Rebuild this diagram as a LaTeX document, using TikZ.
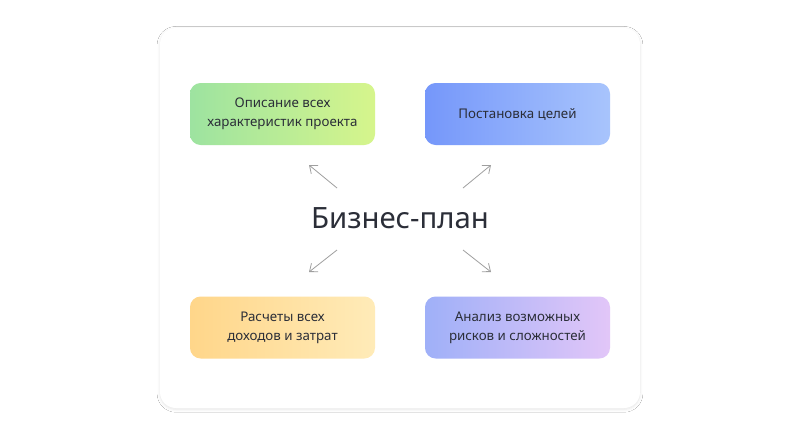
\documentclass[tikz,border=0pt]{standalone}
\usepackage{fontspec}
\setmainfont{Noto Sans}
\usetikzlibrary{shadows.blur,arrows.meta}
\definecolor{ink}{HTML}{2B2E38}
\definecolor{greenA}{HTML}{9DE3A0}
\definecolor{greenB}{HTML}{D6F58C}
\definecolor{blueA}{HTML}{7597FA}
\definecolor{blueB}{HTML}{A8C4FC}
\definecolor{yellowA}{HTML}{FFD68A}
\definecolor{yellowB}{HTML}{FFEBB8}
\definecolor{violetA}{HTML}{9FB0F8}
\definecolor{violetB}{HTML}{E2C6F8}
\tikzset{
  card/.style={fill=white, rounded corners=12pt, blur shadow={shadow blur steps=8, shadow xshift=0pt, shadow yshift=-1pt, shadow opacity=10}},
  goal/.style={minimum width=138.75pt, minimum height=46.5pt, rounded corners=8pt, align=center, font=\fontsize{10}{14}\selectfont, text=ink},
  pointer/.style={draw=gray!75, line width=0.6pt, -{Straight Barb[length=5pt,width=8pt]}}
}
\begin{document}
\begin{tikzpicture}[x=0.75pt,y=-0.75pt]
\useasboundingbox (0,0) rectangle (800,437);
\fill[white] (0,0) rectangle (800,437);
\path[card] (160,28) rectangle (640,408);

\node[goal, left color=greenA, right color=greenB] (desc) at (282.5,114) {Описание всех\\характеристик проекта};
\node[goal, left color=blueA, right color=blueB] (goals) at (517.5,114) {Постановка целей};
\node[goal, left color=yellowA, right color=yellowB] (costs) at (282.5,327.5) {Расчеты всех\\доходов и затрат};
\node[goal, left color=violetA, right color=violetB] (risks) at (517.5,327.5) {Анализ возможных\\рисков и сложностей};

\node[text=ink, font=\fontsize{22}{26}\selectfont] (plan) at (400,218) {Бизнес-план};

\coordinate (a1) at (337,188); \coordinate (b1) at (309,165);
\coordinate (a2) at (463,188); \coordinate (b2) at (491,165);
\coordinate (a3) at (337,250); \coordinate (b3) at (309,272);
\coordinate (a4) at (463,250); \coordinate (b4) at (491,272);
\draw[pointer] (a1) -- (b1);
\draw[pointer] (a2) -- (b2);
\draw[pointer] (a3) -- (b3);
\draw[pointer] (a4) -- (b4);
\end{tikzpicture}
\end{document}
